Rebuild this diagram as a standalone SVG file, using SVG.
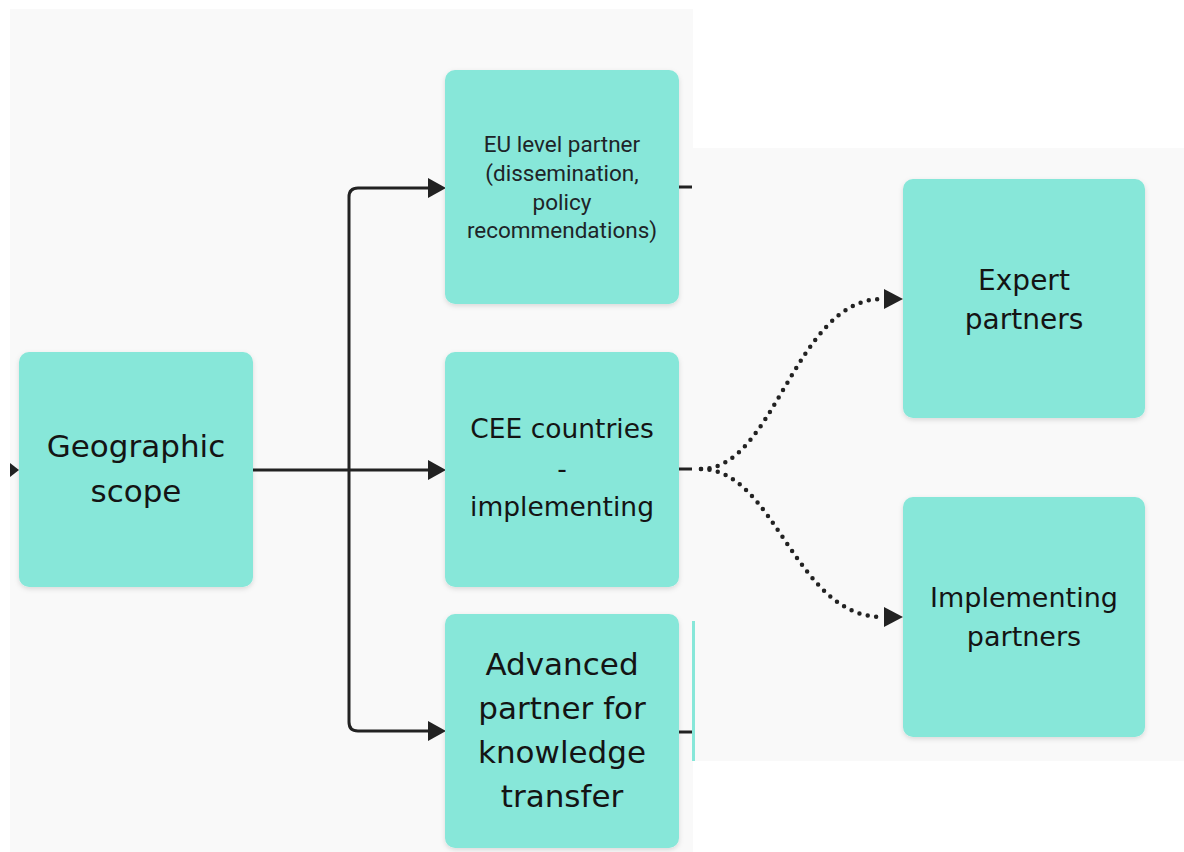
<svg xmlns="http://www.w3.org/2000/svg" width="1184" height="852" viewBox="0 0 1184 852">
  <defs>
    <filter id="sh" x="-10%" y="-10%" width="120%" height="125%">
      <feDropShadow dx="0" dy="2" stdDeviation="2.5" flood-color="#000" flood-opacity="0.13"/>
    </filter>
    <marker id="ah" viewBox="0 0 18 20" refX="0" refY="10" markerWidth="18" markerHeight="20" markerUnits="userSpaceOnUse" orient="auto">
      <path d="M0,0 L18,10 L0,20 Z" fill="#222"/>
    </marker>
  </defs>
  <style>
    .bg { fill: #f9f9f9; }
    .box { fill: #87e7d9; filter: url(#sh); }
    .t { font-family: "DejaVu Sans", "Liberation Sans", sans-serif; fill: #141414; text-anchor: middle; }
    .ts { font-family: Roboto, "Liberation Sans", sans-serif; fill: #1e2428; text-anchor: middle; font-size: 22.5px; }
    .ln { fill: none; stroke: #222; stroke-width: 3; }
    .dot { fill: none; stroke: #222; stroke-width: 4.5; stroke-linecap: round; stroke-dasharray: 0 8.5; }
    .ah { fill: #222; }
  </style>

  <rect width="1184" height="852" fill="#ffffff"/>
  <!-- left screenshot panel -->
  <rect class="bg" x="10" y="9" width="683" height="843"/>
  <!-- right screenshot panel -->
  <rect class="bg" x="692" y="148" width="492" height="613"/>
  <rect x="692" y="621" width="3" height="140" fill="#87e7d9"/>

  <g id="connectors">
    <path class="ah" d="M10,463 L19,470 L10,477 Z"/>
    <path class="ln" d="M253,470 H428" marker-end="url(#ah)"/>
    <path class="ln" d="M428,188 H358 Q349,188 349,197 V722 Q349,731 358,731 H428" marker-end="url(#ah)"/>
    <path class="ah" d="M428,178 L446,188 L428,198 Z"/>
    <path class="ln" d="M679,187 H692"/>
    <path class="ln" d="M679,469 H692"/>
    <path class="ln" d="M679,732 H692"/>
    <path class="dot" d="M701,469 C775,469 795,299 882,299"/>
    <path class="ah" d="M884,289 L903,299 L884,309 Z"/>
    <path class="dot" d="M701,469 C775,469 795,617 882,617"/>
    <path class="ah" d="M884,607 L903,617 L884,627 Z"/>
  </g>

  <g id="node-geographic">
    <rect class="box" x="19" y="352" width="234" height="235" rx="10"/>
    <text class="t" font-size="31" x="136" y="457">Geographic</text>
    <text class="t" font-size="31" x="136" y="502">scope</text>
  </g>

  <g id="node-eu">
    <rect class="box" x="445" y="70" width="234" height="234" rx="10"/>
    <text class="ts" x="562" y="152">EU level partner</text>
    <text class="ts" x="562" y="181">(dissemination,</text>
    <text class="ts" x="562" y="210">policy</text>
    <text class="ts" x="562" y="238">recommendations)</text>
  </g>

  <g id="node-cee">
    <rect class="box" x="445" y="352" width="234" height="235" rx="10"/>
    <text class="t" font-size="26.5" x="562" y="438">CEE countries</text>
    <text class="t" font-size="26.5" x="562" y="478">-</text>
    <text class="t" font-size="26.5" x="562" y="516">implementing</text>
  </g>

  <g id="node-advanced">
    <rect class="box" x="445" y="614" width="234" height="234" rx="10"/>
    <text class="t" font-size="31" x="562" y="675">Advanced</text>
    <text class="t" font-size="31" x="562" y="719">partner for</text>
    <text class="t" font-size="31" x="562" y="763">knowledge</text>
    <text class="t" font-size="31" x="562" y="807">transfer</text>
  </g>

  <g id="node-expert">
    <rect class="box" x="903" y="179" width="242" height="239" rx="10"/>
    <text class="t" font-size="28" x="1024" y="290">Expert</text>
    <text class="t" font-size="28" x="1024" y="329">partners</text>
  </g>

  <g id="node-implementing">
    <rect class="box" x="903" y="497" width="242" height="240" rx="10"/>
    <text class="t" font-size="27" x="1024" y="607">Implementing</text>
    <text class="t" font-size="27" x="1024" y="646">partners</text>
  </g>
</svg>
